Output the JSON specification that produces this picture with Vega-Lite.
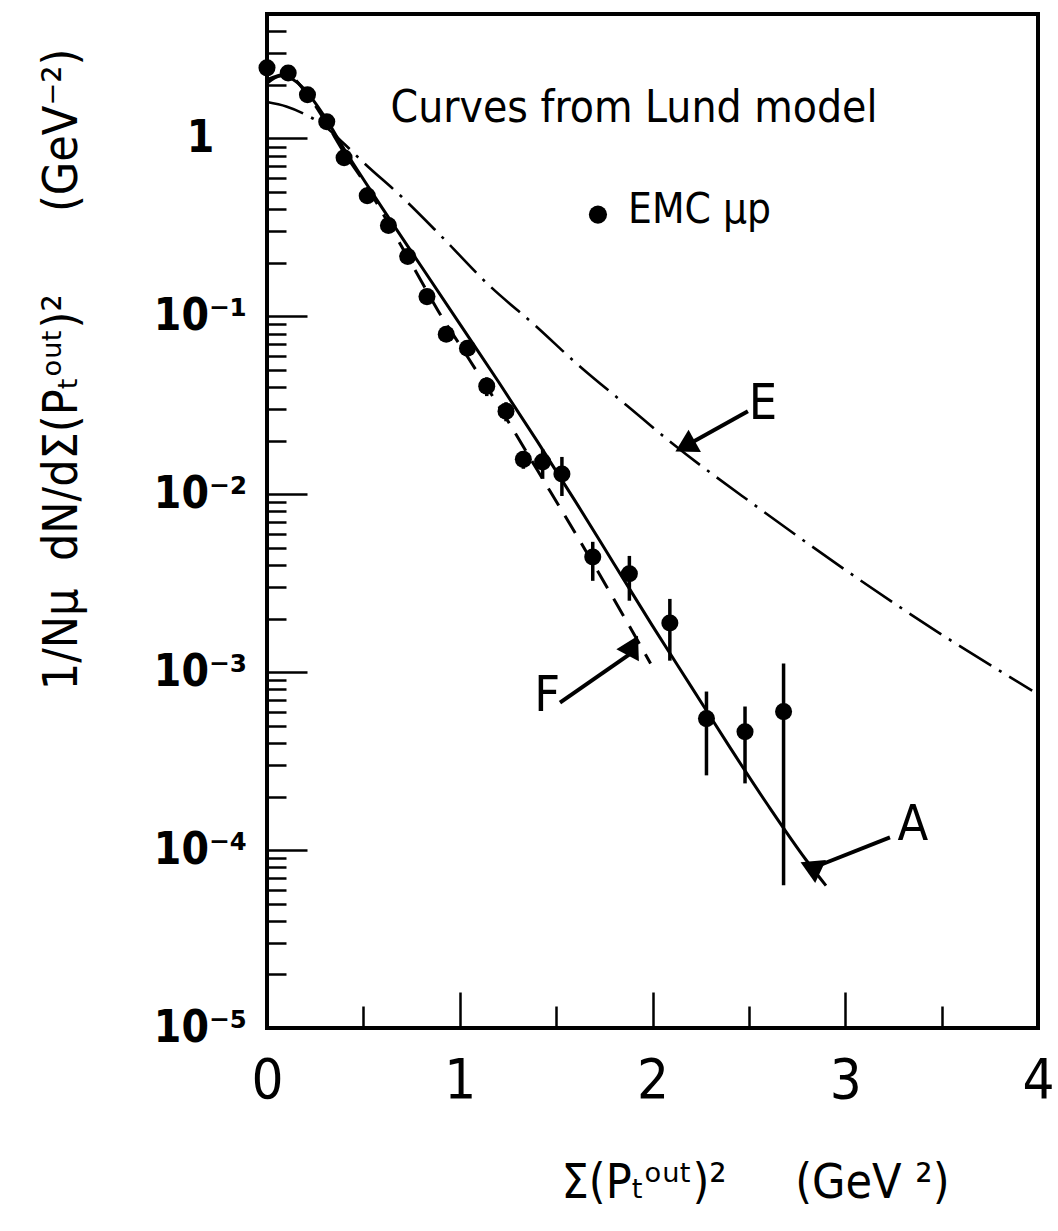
{
  "$schema": "https://vega.github.io/schema/vega-lite/v6.json",
  "autosize": {"type": "none"},
  "padding": {"left": 267, "top": 14, "right": 20, "bottom": 203},
  "width": 771,
  "height": 1014,
  "background": "white",
  "config": {
    "view": {"stroke": "black", "strokeWidth": 4},
    "font": "Liberation Sans Narrow, DejaVu Sans Condensed, Liberation Sans, sans-serif"
  },
  "datasets": {
    "points": [
      {"x": 0.0, "y": 2.49},
      {"x": 0.11, "y": 2.33},
      {"x": 0.21, "y": 1.76},
      {"x": 0.31, "y": 1.24},
      {"x": 0.40, "y": 0.778},
      {"x": 0.52, "y": 0.476},
      {"x": 0.63, "y": 0.324},
      {"x": 0.73, "y": 0.217},
      {"x": 0.83, "y": 0.129},
      {"x": 0.93, "y": 0.0792},
      {"x": 1.04, "y": 0.0661},
      {"x": 1.14, "y": 0.0405, "lo": 0.0356, "hi": 0.0454},
      {"x": 1.24, "y": 0.0293, "lo": 0.0257, "hi": 0.0329},
      {"x": 1.33, "y": 0.0157, "lo": 0.0139, "hi": 0.0175},
      {"x": 1.43, "y": 0.0152, "lo": 0.0122, "hi": 0.0179},
      {"x": 1.53, "y": 0.0130, "lo": 0.00977, "hi": 0.0162},
      {"x": 1.69, "y": 0.00444, "lo": 0.00326, "hi": 0.0054},
      {"x": 1.88, "y": 0.00357, "lo": 0.00252, "hi": 0.0045},
      {"x": 2.09, "y": 0.00189, "lo": 0.00116, "hi": 0.00258},
      {"x": 2.28, "y": 0.000548, "lo": 0.000263, "hi": 0.000778},
      {"x": 2.48, "y": 0.000463, "lo": 0.000237, "hi": 0.000641},
      {"x": 2.68, "y": 0.000600, "lo": 0.0000635, "hi": 0.00112}
    ],
    "curves": [
      {"curve": "A", "x": 0.0, "y": 2.04},
      {"curve": "A", "x": 0.07, "y": 2.24},
      {"curve": "A", "x": 0.15, "y": 2.09},
      {"curve": "A", "x": 0.2, "y": 1.86},
      {"curve": "A", "x": 0.3, "y": 1.32},
      {"curve": "A", "x": 0.4, "y": 0.871},
      {"curve": "A", "x": 0.6, "y": 0.403},
      {"curve": "A", "x": 0.8, "y": 0.191},
      {"curve": "A", "x": 1.0, "y": 0.0906},
      {"curve": "A", "x": 1.2, "y": 0.043},
      {"curve": "A", "x": 1.4, "y": 0.02},
      {"curve": "A", "x": 1.6, "y": 0.00912},
      {"curve": "A", "x": 1.8, "y": 0.00407},
      {"curve": "A", "x": 2.0, "y": 0.00182},
      {"curve": "A", "x": 2.2, "y": 0.000832},
      {"curve": "A", "x": 2.4, "y": 0.00038},
      {"curve": "A", "x": 2.6, "y": 0.000178},
      {"curve": "A", "x": 2.8, "y": 0.0000871},
      {"curve": "A", "x": 2.9, "y": 0.0000631},
      {"curve": "F", "x": 0.0, "y": 2.14},
      {"curve": "F", "x": 0.1, "y": 2.29},
      {"curve": "F", "x": 0.2, "y": 1.82},
      {"curve": "F", "x": 0.3, "y": 1.26},
      {"curve": "F", "x": 0.4, "y": 0.832},
      {"curve": "F", "x": 0.5, "y": 0.575},
      {"curve": "F", "x": 0.6, "y": 0.38},
      {"curve": "F", "x": 0.7, "y": 0.245},
      {"curve": "F", "x": 0.8, "y": 0.158},
      {"curve": "F", "x": 0.9, "y": 0.102},
      {"curve": "F", "x": 1.0, "y": 0.0692},
      {"curve": "F", "x": 1.2, "y": 0.0316},
      {"curve": "F", "x": 1.4, "y": 0.0138},
      {"curve": "F", "x": 1.6, "y": 0.00603},
      {"curve": "F", "x": 1.8, "y": 0.00257},
      {"curve": "F", "x": 1.99, "y": 0.00112},
      {"curve": "E", "x": 0.0, "y": 1.6},
      {"curve": "E", "x": 0.1, "y": 1.51},
      {"curve": "E", "x": 0.2, "y": 1.36},
      {"curve": "E", "x": 0.3, "y": 1.17},
      {"curve": "E", "x": 0.4, "y": 0.933},
      {"curve": "E", "x": 0.5, "y": 0.733},
      {"curve": "E", "x": 0.7, "y": 0.468},
      {"curve": "E", "x": 0.9, "y": 0.285},
      {"curve": "E", "x": 1.15, "y": 0.15},
      {"curve": "E", "x": 1.4, "y": 0.0871},
      {"curve": "E", "x": 1.6, "y": 0.055},
      {"curve": "E", "x": 1.87, "y": 0.0313},
      {"curve": "E", "x": 2.1, "y": 0.0194},
      {"curve": "E", "x": 2.55, "y": 0.00838},
      {"curve": "E", "x": 3.07, "y": 0.00333},
      {"curve": "E", "x": 3.48, "y": 0.00168},
      {"curve": "E", "x": 3.97, "y": 0.000787}
    ],
    "arrows": [
      {"label": "E", "x": 2.495, "y": 0.0293, "x2": 2.169, "y2": 0.01862, "lx": 2.573, "ly": 0.0321},
      {"label": "F", "x": 1.52, "y": 0.000674, "x2": 1.899, "y2": 0.0013, "lx": 1.453, "ly": 0.000738},
      {"label": "A", "x": 3.232, "y": 0.000118, "x2": 2.853, "y2": 0.0000811, "lx": 3.351, "ly": 0.000138}
    ],
    "notes": [
      {"kind": "title", "x": 1.904, "y": 1.24, "text": "Curves from Lund model"},
      {"kind": "legend", "x": 1.873, "y": 0.336, "text": "EMC μp"}
    ],
    "legendDot": [
      {"x": 1.717, "y": 0.373}
    ]
  },
  "layer": [
    {
      "data": {"name": "curves"},
      "transform": [{"filter": "datum.curve == 'A'"}],
      "mark": {"type": "line", "color": "black", "strokeWidth": 3, "interpolate": "monotone", "clip": true},
      "encoding": {
        "x": {
          "field": "x", "type": "quantitative",
          "scale": {"domain": [0, 4], "nice": false, "zero": false},
          "axis": {
            "values": [0, 0.5, 1, 1.5, 2, 2.5, 3, 3.5, 4],
            "domain": false,
            "grid": false,
            "tickColor": "black",
            "tickWidth": 2.5,
            "tickSize": {"condition": {"test": "datum.value % 1 == 0", "value": -36}, "value": -22},
            "labelExpr": "datum.value % 1 == 0 ? format(datum.value, 'd') : ''",
            "labelFontSize": 56,
            "labelColor": "black",
            "labelFlush": false,
            "labelOverlap": false,
            "labelBound": false,
            "labelBaseline": "middle",
            "labelPadding": 88,
            "title": "Σ(Pₜᵒᵘᵗ)²\u00a0\u00a0\u00a0\u00a0\u00a0(GeV\u00a0²)",
            "titleFontSize": 48,
            "titleFontWeight": "normal",
            "titleColor": "black",
            "titleX": 488,
            "titleY": 155,
            "titleAlign": "center",
            "titleBaseline": "middle"
          }
        },
        "y": {
          "field": "y", "type": "quantitative",
          "scale": {"type": "log", "domain": [0.00001, 5], "nice": false},
          "axis": {
            "values": [0.00001, 0.00002, 0.00003, 0.00004, 0.00005, 0.00006, 0.00007, 0.00008, 0.00009,
                       0.0001, 0.0002, 0.0003, 0.0004, 0.0005, 0.0006, 0.0007, 0.0008, 0.0009,
                       0.001, 0.002, 0.003, 0.004, 0.005, 0.006, 0.007, 0.008, 0.009,
                       0.01, 0.02, 0.03, 0.04, 0.05, 0.06, 0.07, 0.08, 0.09,
                       0.1, 0.2, 0.3, 0.4, 0.5, 0.6, 0.7, 0.8, 0.9,
                       1, 2, 3, 4, 5],
            "domain": false,
            "grid": false,
            "tickColor": "black",
            "tickWidth": 2.5,
            "tickSize": {"condition": {"test": "indexof([0.00001, 0.0001, 0.001, 0.01, 0.1, 1], datum.value) >= 0", "value": -40}, "value": -19},
            "labelExpr": "datum.value == 1 ? '1' : datum.value == 0.1 ? '10⁻¹' : datum.value == 0.01 ? '10⁻²' : datum.value == 0.001 ? '10⁻³' : datum.value == 0.0001 ? '10⁻⁴' : datum.value == 0.00001 ? '10⁻⁵' : ''",
            "labelFontSize": 44,
            "labelFontWeight": "bold",
            "labelColor": "black",
            "labelAlign": "center",
            "labelBaseline": "middle",
            "labelFlush": false,
            "labelOverlap": false,
            "labelBound": false,
            "labelPadding": 107,
            "title": "1/Nμ\u00a0\u00a0dN/dΣ(Pₜᵒᵘᵗ)²\u00a0\u00a0\u00a0\u00a0\u00a0\u00a0(GeV⁻²)",
            "titleFontSize": 48,
            "titleFontWeight": "normal",
            "titleColor": "black",
            "titleAngle": -90,
            "titleX": -205,
            "titleY": 355,
            "titleAlign": "center",
            "titleBaseline": "middle"
          }
        }
      }
    },
    {
      "data": {"name": "curves"},
      "transform": [{"filter": "datum.curve == 'F'"}],
      "mark": {"type": "line", "color": "black", "strokeWidth": 3, "strokeDash": [20, 12], "interpolate": "monotone", "clip": true},
      "encoding": {
        "x": {"field": "x", "type": "quantitative"},
        "y": {"field": "y", "type": "quantitative"}
      }
    },
    {
      "data": {"name": "curves"},
      "transform": [{"filter": "datum.curve == 'E'"}],
      "mark": {"type": "line", "color": "black", "strokeWidth": 2.6, "strokeDash": [38, 9, 3, 9], "interpolate": "monotone", "clip": true},
      "encoding": {
        "x": {"field": "x", "type": "quantitative"},
        "y": {"field": "y", "type": "quantitative"}
      }
    },
    {
      "data": {"name": "points"},
      "transform": [{"filter": "datum.lo != null"}],
      "mark": {"type": "rule", "color": "black", "strokeWidth": 3.5},
      "encoding": {
        "x": {"field": "x", "type": "quantitative"},
        "y": {"field": "lo", "type": "quantitative"},
        "y2": {"field": "hi"}
      }
    },
    {
      "data": {"name": "points"},
      "mark": {"type": "point", "filled": true, "color": "black", "opacity": 1, "size": 290, "shape": "circle"},
      "encoding": {
        "x": {"field": "x", "type": "quantitative"},
        "y": {"field": "y", "type": "quantitative"}
      }
    },
    {
      "data": {"name": "legendDot"},
      "mark": {"type": "point", "filled": true, "color": "black", "opacity": 1, "size": 330, "shape": "circle"},
      "encoding": {
        "x": {"field": "x", "type": "quantitative"},
        "y": {"field": "y", "type": "quantitative"}
      }
    },
    {
      "data": {"name": "notes"},
      "transform": [{"filter": "datum.kind == 'title'"}],
      "mark": {"type": "text", "fontSize": 44, "color": "black", "align": "center", "baseline": "alphabetic"},
      "encoding": {
        "x": {"field": "x", "type": "quantitative"},
        "y": {"field": "y", "type": "quantitative"},
        "text": {"field": "text"}
      }
    },
    {
      "data": {"name": "notes"},
      "transform": [{"filter": "datum.kind == 'legend'"}],
      "mark": {"type": "text", "fontSize": 42, "color": "black", "align": "left", "baseline": "alphabetic"},
      "encoding": {
        "x": {"field": "x", "type": "quantitative"},
        "y": {"field": "y", "type": "quantitative"},
        "text": {"field": "text"}
      }
    },
    {
      "data": {"name": "arrows"},
      "mark": {"type": "rule", "color": "black", "strokeWidth": 4},
      "encoding": {
        "x": {"field": "x", "type": "quantitative"},
        "y": {"field": "y", "type": "quantitative"},
        "x2": {"field": "x2"},
        "y2": {"field": "y2"}
      }
    },
    {
      "data": {"name": "arrows"},
      "mark": {"type": "point", "filled": true, "color": "black", "opacity": 1, "shape": "triangle-up", "size": 650},
      "encoding": {
        "x": {"field": "x2", "type": "quantitative"},
        "y": {"field": "y2", "type": "quantitative"},
        "angle": {"field": "label", "type": "nominal", "scale": {"domain": ["E", "F", "A"], "range": [241, 55, 248]}, "legend": null}
      }
    },
    {
      "data": {"name": "arrows"},
      "mark": {"type": "text", "fontSize": 50, "color": "black", "align": "center", "baseline": "middle"},
      "encoding": {
        "x": {"field": "lx", "type": "quantitative"},
        "y": {"field": "ly", "type": "quantitative"},
        "text": {"field": "label"}
      }
    }
  ]
}
